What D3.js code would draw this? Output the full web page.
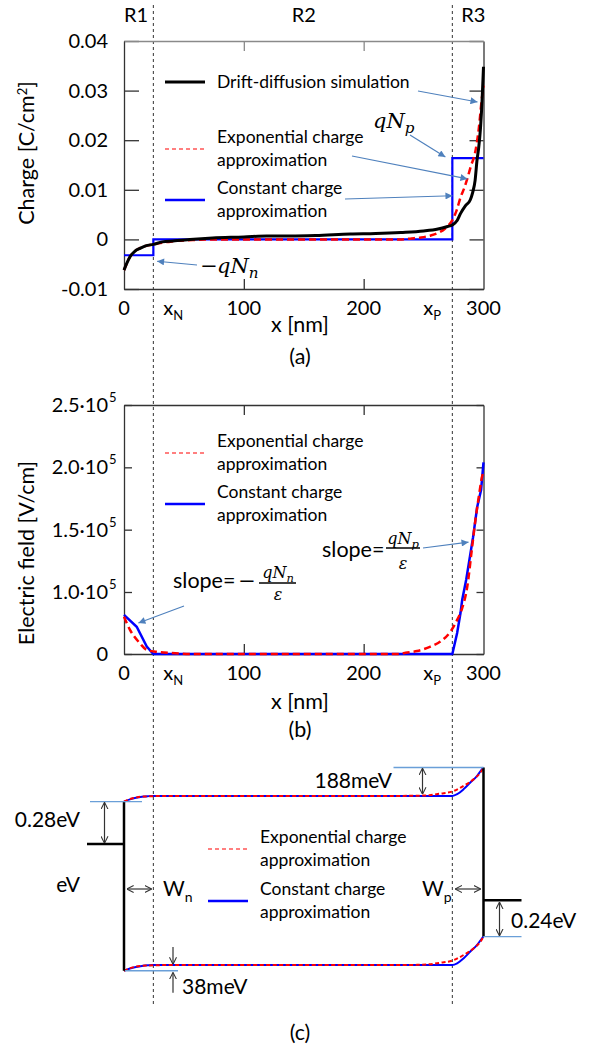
<!DOCTYPE html>
<html>
<head>
<meta charset="utf-8">
<script src="https://cdn.jsdelivr.net/npm/d3@7"></script>
<style>
  body { margin: 0; background: #fff; }
  svg { display: block; }
</style>
</head>
<body>
<svg id="fig" width="593" height="1047"></svg>
<script>
// ---------------- data ----------------
const regionNames = ["R1", "R2", "R3"];
const regionCenterNm = [10, 150, 291.5];
const junctionNm = [24.5, 274];            // x_N, x_P
const junctionNames = ["N", "P"];
const xTickValues = [0, 100, 200, 300];
const xTickLabels = ["0", "100", "200", "300"];

// (a) space charge density [C/cm^2]
const chargeTicks = [0.04, 0.03, 0.02, 0.01, 0, -0.01];
const chargeTickLabels = ["0.04", "0.03", "0.02", "0.01", "0", "-0.01"];
const chargeDriftDiffusion = [
  [0, -0.0062], [2, -0.0050], [5, -0.0035], [9, -0.0024], [13.4, -0.0018], [18, -0.0013],
  [24.5, -0.0010], [32, -0.0005], [41, -0.0003], [55, 0.0000], [74, 0.0003], [100, 0.0005],
  [119, 0.0007], [139, 0.0007], [160, 0.0008], [189, 0.0011], [210, 0.0012], [231, 0.0014],
  [250, 0.0017], [262, 0.0021], [270, 0.0026], [274, 0.0029], [278, 0.0038], [281, 0.0053],
  [285, 0.0068], [289, 0.0080], [291, 0.0095], [293, 0.0119], [294.6, 0.0160], [296, 0.0185],
  [297.5, 0.0225], [298.8, 0.0279], [300, 0.0348]
];
const chargeExponential = [
  [0, -0.0062], [5, -0.0035], [13, -0.0018], [24.5, -0.0010], [40, -0.0004], [60, -0.0001],
  [80, 0], [230, 0], [240, 0.0002], [248, 0.0004], [256, 0.0008], [262, 0.0013], [268, 0.0022],
  [274, 0.0039], [277.5, 0.0058], [281, 0.0086], [284, 0.0104], [286.3, 0.0121], [289.5, 0.0148],
  [293, 0.0175], [296, 0.0222], [298.8, 0.0288], [300, 0.0310]
];
const chargeConstantLevels = [-0.0032, 0, 0.0164];   // R1, R2, R3

// (b) electric field [V/cm]
const fieldTicks = [2.5e5, 2.0e5, 1.5e5, 1.0e5, 0];
const fieldTickMantissa = ["2.5·10", "2.0·10", "1.5·10", "1.0·10", "0"];
const fieldTickExponent = ["5", "5", "5", "5", ""];
const fieldConstant = [
  [0, 0.63e5], [10.6, 0.44e5], [19, 0.12e5], [24.5, 0], [274, 0], [278, 0.34e5], [280.8, 0.66e5],
  [282.2, 0.87e5], [285.6, 1.10e5], [289.1, 1.31e5], [291.3, 1.44e5], [294.7, 1.68e5],
  [298, 1.82e5], [300, 2.04e5]
];
const fieldExponential = [
  [0, 0.60e5], [5, 0.39e5], [13.4, 0.17e5], [19, 0.065e5], [27, 0.035e5], [40, 0.015e5], [60, 0],
  [230, 0], [235, 0.02e5], [244.6, 0.048e5], [255.7, 0.118e5], [264, 0.20e5], [272.4, 0.36e5],
  [278, 0.55e5], [282.2, 0.74e5], [286.4, 1.04e5], [290.5, 1.36e5], [293.3, 1.58e5],
  [296, 1.76e5], [298.9, 1.93e5], [300, 1.97e5]
];

// (c) band diagram [eV]
const bandGap = 1.12;
const bendConstant = [
  [0, -0.038], [5, -0.023], [10, -0.013], [15, -0.006], [20, -0.002], [24.5, 0], [274, 0],
  [278, 0.011], [283.5, 0.045], [289, 0.089], [294.7, 0.133], [298.9, 0.178], [300, 0.188]
];
const bendExponential = [
  [0, -0.038], [5, -0.021], [10, -0.011], [15, -0.005], [20, -0.003], [25, -0.0015], [35, -0.0005],
  [50, 0], [230, 0], [245, 0.001], [255, 0.005], [264, 0.015], [274, 0.029], [283.5, 0.067],
  [291.9, 0.111], [297.5, 0.155], [300, 0.188]
];
const leftContactDrop = 0.28;     // below E_c at x = 0
const rightContactRise = 0.24;    // above E_v at x = 300
const edgeBendLeft = 0.038;
const edgeBendRight = 0.188;
const energyLabels = ["0.28eV", "188meV", "38meV", "0.24eV"];

const legendExp = ["Exponential charge", "approximation"];
const legendConst = ["Constant charge", "approximation"];
const legendDD = "Drift-diffusion simulation";

// ---------------- styles ----------------
const FONT = "Lato, 'Open Sans', sans-serif";
const MATH = "'DejaVu Serif', serif";
const RED = "#ff0000", BLUE = "#0000ff", ARROW = "#4f81bd", GUIDE = "#6a9fd8", AX = "#333";

const svg = d3.select("#fig");
const defs = svg.append("defs");
defs.append("marker").attr("id", "triHead").attr("viewBox", "0 0 10 10")
  .attr("refX", 10).attr("refY", 5).attr("markerWidth", 10).attr("markerHeight", 7)
  .attr("markerUnits", "userSpaceOnUse").attr("orient", "auto")
  .append("path").attr("d", "M0,0L10,5L0,10Z").attr("fill", ARROW);
defs.append("marker").attr("id", "openHead").attr("viewBox", "0 0 10 10")
  .attr("refX", 9.5).attr("refY", 5).attr("markerWidth", 7).attr("markerHeight", 8)
  .attr("markerUnits", "userSpaceOnUse").attr("orient", "auto-start-reverse")
  .append("path").attr("d", "M0,0L10,5L0,10").attr("fill", "none")
  .attr("stroke", AX).attr("stroke-width", 1.5);

function text(g, px, py, s, size, anchor = "start", family = FONT, style = "normal") {
  return g.append("text").attr("x", px).attr("y", py).attr("font-size", size)
    .attr("font-family", family).attr("font-style", style)
    .attr("text-anchor", anchor).attr("fill", "#000").text(s);
}
function blueArrow(x1, y1, x2, y2) {
  svg.append("line").attr("x1", x1).attr("y1", y1).attr("x2", x2).attr("y2", y2)
    .attr("stroke", ARROW).attr("stroke-width", 1.2).attr("marker-end", "url(#triHead)");
}
function grayArrow(x1, y1, x2, y2, both) {
  const l = svg.append("line").attr("x1", x1).attr("y1", y1).attr("x2", x2).attr("y2", y2)
    .attr("stroke", AX).attr("stroke-width", 1.2).attr("marker-end", "url(#openHead)");
  if (both) l.attr("marker-start", "url(#openHead)");
}
function mathVar(g, px, py, base, sub, size, anchor = "start") {
  const t = g.append("text").attr("x", px).attr("y", py).attr("font-family", MATH)
    .attr("font-style", "italic").attr("font-size", size).attr("text-anchor", anchor);
  t.append("tspan").text(base);
  t.append("tspan").attr("dy", size * 0.25).attr("font-size", size * 0.72).text(sub);
  return t;
}

// ---------------- scales ----------------
const x = d3.scaleLinear().domain([0, 300]).range([124, 483.5]);
const yA = d3.scaleLinear().domain([-0.01, 0.04]).range([289, 41]);
const yB = d3.scaleLinear().domain([0, 1e5, 2.5e5]).range([654, 592, 405]);
const yC = d3.scaleLinear().domain([0, 1]).range([965, 814]);

// region boundaries through all three panels
junctionNm.forEach(v => {
  svg.append("line").attr("x1", x(v)).attr("x2", x(v)).attr("y1", 5).attr("y2", 1005)
    .attr("stroke", "#333").attr("stroke-width", 1).attr("stroke-dasharray", "3,3");
});
regionNames.forEach((r, i) => text(svg, x(regionCenterNm[i]), 22, r, 20, "middle"));

// ---------------- panel helpers ----------------
function frame(y, ticks, inL, inR, topColor) {
  const g = svg.append("g");
  const left = g.append("g").attr("transform", `translate(${x(0)},0)`)
    .call(d3.axisLeft(y).tickValues(ticks).tickSizeInner(-inL).tickSizeOuter(0).tickFormat(""));
  const right = g.append("g").attr("transform", `translate(${x(300)},0)`)
    .call(d3.axisRight(y).tickValues(ticks).tickSizeInner(-inR).tickSizeOuter(0).tickFormat(""));
  const y0 = y.range()[0], y1 = y.range()[y.range().length - 1];
  const bottom = g.append("g").attr("transform", `translate(0,${y0})`)
    .call(d3.axisBottom(x).tickValues([100, 200]).tickSizeInner(-10).tickSizeOuter(0).tickFormat(""));
  const top = g.append("g").attr("transform", `translate(0,${y1})`)
    .call(d3.axisTop(x).tickValues([100, 200]).tickSizeInner(-10).tickSizeOuter(0).tickFormat(""));
  [left, right, bottom].forEach(a => a.selectAll("path,line").attr("stroke", AX).attr("stroke-width", 1.3));
  top.selectAll("path,line").attr("stroke", topColor).attr("stroke-width", 1.3);
  g.selectAll("text").remove();
  return g;
}
function xLabels(baseY, titleY, tag, tagY) {
  xTickValues.forEach((v, i) => text(svg, x(v), baseY, xTickLabels[i], 20, "middle"));
  junctionNm.forEach((v, i) => {
    const t = svg.append("text").attr("font-family", FONT).attr("font-size", 20)
      .attr("x", i === 0 ? x(v) + 10 : x(v) - 29).attr("y", baseY);
    t.append("tspan").text("x");
    t.append("tspan").attr("dy", 5).attr("font-size", 13).text(junctionNames[i]);
  });
  text(svg, 300, titleY, "x [nm]", 21.5, "middle");
  text(svg, 300, tagY, tag, 21.5, "middle");
}
function legendEntry(lx, ly, labels, color, dashed, width, textX) {
  svg.append("line").attr("x1", lx).attr("x2", lx + 40).attr("y1", ly).attr("y2", ly)
    .attr("stroke", color).attr("stroke-width", width)
    .attr("stroke-dasharray", dashed ? "4,3" : null);
  labels.forEach((s, i) => text(svg, textX, ly - 6 + i * 23, s, 17.5));
}

// ---------------- (a) charge ----------------
frame(yA, chargeTicks, 15, 14, "#8a8a8a");
chargeTicks.forEach((v, i) => text(svg, 108, yA(v) + 7, chargeTickLabels[i], 20, "end"));
{
  const t = svg.append("text").attr("font-family", FONT).attr("font-size", 21.5)
    .attr("transform", `translate(34,153) rotate(-90)`).attr("text-anchor", "middle");
  t.append("tspan").text("Charge [C/cm");
  t.append("tspan").attr("dy", -7).attr("font-size", 13).text("2");
  t.append("tspan").attr("dy", 7).text("]");
}
xLabels(315, 332, "(a)", 364);

const lineA = d3.line().x(d => x(d[0])).y(d => yA(d[1]));
const stepA = [
  [0, chargeConstantLevels[0]], [junctionNm[0], chargeConstantLevels[0]],
  [junctionNm[0], chargeConstantLevels[1]], [junctionNm[1], chargeConstantLevels[1]],
  [junctionNm[1], chargeConstantLevels[2]], [300, chargeConstantLevels[2]]
];
svg.append("path").attr("d", lineA(stepA)).attr("fill", "none").attr("stroke", BLUE).attr("stroke-width", 2.2);
svg.append("path").attr("d", lineA.curve(d3.curveMonotoneX)(chargeExponential)).attr("fill", "none")
  .attr("stroke", RED).attr("stroke-width", 2.5).attr("stroke-dasharray", "7,4");
svg.append("path").attr("d", lineA.curve(d3.curveMonotoneX)(chargeDriftDiffusion)).attr("fill", "none")
  .attr("stroke", "#000").attr("stroke-width", 3);

svg.append("line").attr("x1", 165).attr("x2", 205).attr("y1", 82).attr("y2", 82)
  .attr("stroke", "#000").attr("stroke-width", 3);
text(svg, 217, 88, legendDD, 17.5);
legendEntry(165, 149, legendExp, RED, true, 1.2, 217);
legendEntry(165, 200, legendConst, BLUE, false, 2.5, 217);

mathVar(svg, 373, 128, "qN", "p", 21);
mathVar(svg, 217, 273, "qN", "n", 21);
text(svg, 209, 273, "−", 21, "middle", MATH);
blueArrow(418, 91, x(295), yA(0.0277));
blueArrow(410, 135, x(268.2), yA(0.0166));
blueArrow(352, 156, x(286.6), yA(0.0122));
blueArrow(345, 199, x(274.1), yA(0.0088));
blueArrow(197, 265, x(27.6), yA(-0.0044));

// ---------------- (b) electric field ----------------
frame(yB, fieldTicks, 8, 7, AX);
fieldTicks.forEach((v, i) => {
  text(svg, 108, yB(v) + 7, fieldTickMantissa[i], 20, "end");
  if (fieldTickExponent[i]) text(svg, 109, yB(v) - 3, fieldTickExponent[i], 13);
});
svg.append("text").attr("font-family", FONT).attr("font-size", 21.5)
  .attr("transform", `translate(34,553) rotate(-90)`).attr("text-anchor", "middle")
  .text("Electric field [V/cm]");
xLabels(680, 709, "(b)", 737);

const lineB = d3.line().x(d => x(d[0])).y(d => yB(d[1]));
svg.append("path").attr("d", lineB(fieldConstant)).attr("fill", "none").attr("stroke", BLUE).attr("stroke-width", 2.5);
svg.append("path").attr("d", lineB.curve(d3.curveMonotoneX)(fieldExponential)).attr("fill", "none")
  .attr("stroke", RED).attr("stroke-width", 2.5).attr("stroke-dasharray", "7,4");

legendEntry(165, 453, legendExp, RED, true, 1.2, 217);
legendEntry(165, 504, legendConst, BLUE, false, 2.5, 217);

// slope annotations
text(svg, 322, 557, "slope=", 21.5);
mathVar(svg, 403, 544, "qN", "p", 16, "middle");
svg.append("line").attr("x1", 386).attr("x2", 420).attr("y1", 548).attr("y2", 548).attr("stroke", "#000").attr("stroke-width", 1.3);
text(svg, 403, 569, "ε", 16, "middle", MATH, "italic");
blueArrow(423, 548, x(287.5), yB(1.40e5));

text(svg, 173, 588, "slope=", 21.5);
text(svg, 247, 588, "−", 21, "middle", MATH);
mathVar(svg, 278, 578, "qN", "n", 16, "middle");
svg.append("line").attr("x1", 259).attr("x2", 296).attr("y1", 583).attr("y2", 583).attr("stroke", "#000").attr("stroke-width", 1.3);
text(svg, 278, 600, "ε", 16, "middle", MATH, "italic");
blueArrow(184, 606, x(12), yB(0.5e5));

// ---------------- (c) band diagram ----------------
const lineC = (offset) => d3.line().x(d => x(d[0])).y(d => yC(d[1] + offset));
[bandGap, 0].forEach(off => {
  svg.append("path").attr("d", lineC(off).curve(d3.curveMonotoneX)(bendConstant)).attr("fill", "none")
    .attr("stroke", BLUE).attr("stroke-width", 2);
  svg.append("path").attr("d", lineC(off).curve(d3.curveMonotoneX)(bendExponential)).attr("fill", "none")
    .attr("stroke", RED).attr("stroke-width", 2).attr("stroke-dasharray", "4,2.5");
});

const EcL = bandGap - edgeBendLeft, EvL = -edgeBendLeft;
const EcR = bandGap + edgeBendRight, EvR = edgeBendRight;
const contactL = EcL - leftContactDrop, contactR = EvR + rightContactRise;

// contacts
svg.append("line").attr("x1", x(0)).attr("x2", x(0)).attr("y1", yC(EcL)).attr("y2", yC(EvL))
  .attr("stroke", "#000").attr("stroke-width", 2.5);
svg.append("line").attr("x1", x(300)).attr("x2", x(300)).attr("y1", yC(EcR)).attr("y2", yC(EvR))
  .attr("stroke", "#000").attr("stroke-width", 2.5);
svg.append("line").attr("x1", x(0) - 37).attr("x2", x(0)).attr("y1", yC(contactL)).attr("y2", yC(contactL))
  .attr("stroke", "#000").attr("stroke-width", 2.5);
svg.append("line").attr("x1", x(300)).attr("x2", x(300) + 38).attr("y1", yC(contactR)).attr("y2", yC(contactR))
  .attr("stroke", "#000").attr("stroke-width", 2.5);

// reference levels
function guide(x1, x2, e) {
  svg.append("line").attr("x1", x1).attr("x2", x2).attr("y1", yC(e)).attr("y2", yC(e))
    .attr("stroke", GUIDE).attr("stroke-width", 1.3);
}
guide(x(0) - 34, x(0) + 18, EcL);
guide(x(0) + 1, x(0) + 54, EvL);
guide(x(300) - 90, x(300), EcR);
guide(x(300), x(300) + 38, EvR);

// energy annotations
grayArrow(104.5, yC(EcL) + 1, 104.5, yC(contactL) - 1, true);
text(svg, 80, yC(EcL) + 25, energyLabels[0], 21, "end");
grayArrow(422.5, yC(EcR) + 1, 422.5, yC(bandGap) - 2, true);
text(svg, 392, yC(EcR) + 21, energyLabels[1], 21, "end");
grayArrow(173, yC(0) - 18, 173, yC(0) - 1, false);
grayArrow(173, yC(EvL) + 22, 173, yC(EvL) + 2, false);
text(svg, 182, yC(EvL) + 23, energyLabels[2], 21);
grayArrow(499.5, yC(contactR) + 2, 499.5, yC(EvR) - 1, true);
text(svg, 511, yC(contactR) + 28, energyLabels[3], 21);
text(svg, 68, 892, "eV", 21, "middle");

// depletion widths
grayArrow(x(0) + 3, 889, x(junctionNm[0]) - 2, 889, true);
grayArrow(x(junctionNm[1]) + 3, 889, x(300) - 3, 889, true);
[["W", "n", 163], ["W", "p", 422]].forEach(([b, s, px]) => {
  const t = svg.append("text").attr("font-family", FONT).attr("font-size", 21).attr("x", px).attr("y", 896);
  t.append("tspan").text(b);
  t.append("tspan").attr("dy", 6).attr("font-size", 14).text(s);
});

legendEntry(208, 849, legendExp, RED, true, 1.2, 260);
legendEntry(208, 901, legendConst, BLUE, false, 2.5, 260);
text(svg, 300, 1040, "(c)", 21.5, "middle");
</script>
</body>
</html>
